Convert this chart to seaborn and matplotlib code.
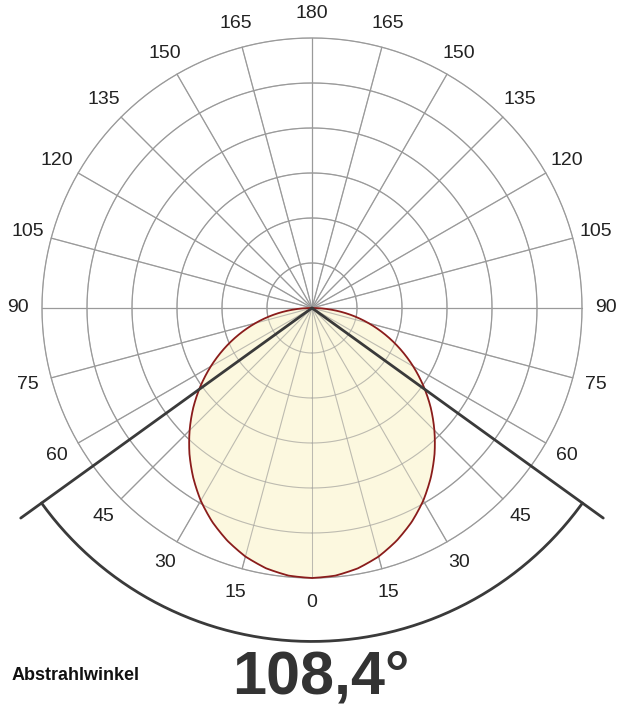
import numpy as np
import matplotlib
matplotlib.use("Agg")
import matplotlib.pyplot as plt
import seaborn as sns

# relative intensity vs angle from nadir (degrees)
angles = [0, 5, 10, 15, 20, 25, 30, 35, 40, 45, 50, 55, 60, 65, 70, 75, 80, 85, 90]
intensity = [1.0, 0.995, 0.979, 0.953, 0.917, 0.874, 0.824, 0.767, 0.706, 0.641,
             0.574, 0.504, 0.433, 0.361, 0.289, 0.217, 0.145, 0.072, 0.0]
grid_levels = [1/6, 2/6, 3/6, 4/6, 5/6, 1.0]
tick_angles = [0, 15, 30, 45, 60, 75, 90, 105, 120, 135, 150, 165, 180]
beam_angle = 108.4

sns.set_style("white")
plt.rcParams['font.family'] = ['Liberation Sans', 'DejaVu Sans']

fig = plt.figure(figsize=(6.23, 7.2), dpi=100)
ax = fig.add_axes([0, 0, 1, 1])
ax.set_xlim(0, 623); ax.set_ylim(720, 0); ax.axis('off')
cx, cy, R = 312, 308, 270

def pt(r, deg):
    t = np.radians(deg)
    return cx + r * R * np.sin(t), cy + r * R * np.cos(t)

tt = np.linspace(0, 360, 361)
def draw_grid(z, lw, alpha):
    for g in grid_levels:
        x, y = pt(g, tt)
        ax.plot(x, y, color='#9a9a9a', lw=lw, zorder=z, alpha=alpha)
    for a in range(0, 360, 15):
        x, y = pt(np.array([0, 1.0]), a)
        ax.plot(x, y, color='#9a9a9a', lw=lw, zorder=z, alpha=alpha)

draw_grid(1, 0.9, 1.0)

# lobe (smooth via interpolation in angle for drawing only)
a_full = np.array([-a for a in angles[::-1]] + angles[1:], dtype=float)
i_full = np.array(intensity[::-1] + intensity[1:])
af = np.linspace(-90, 90, 721)
iff = np.interp(af, a_full, i_full)
lx, ly = pt(iff, af)
ax.fill(lx, ly, color='#fcf7da', alpha=0.85, zorder=2)
ax.plot(lx, ly, color='#8a1c1c', lw=1.3, zorder=3)
draw_grid(2.5, 0.7, 0.6)

# beam lines and arc
half = beam_angle / 2
for s in (-1, 1):
    x, y = pt(np.array([0, 1.33]), s * half)
    ax.plot(x, y, color='#3a3a3a', lw=2, zorder=4)
arc = np.linspace(-half, half, 200)
x, y = pt(1.235, arc)
ax.plot(x, y, color='#3a3a3a', lw=2, zorder=4)

# labels
for a in tick_angles:
    for s in ((1,) if a in (0, 180) else (-1, 1)):
        x, y = pt(1.09, s * a)
        ax.text(x, y, str(a), ha='center', va='center', fontsize=14, color='#222222')

ax.text(12, 675, 'Abstrahlwinkel', fontsize=13, fontweight='bold', color='#111111', va='center')
ax.text(232, 678, '108,4°', fontsize=44, fontweight='bold', color='#333333', va='center')

fig.savefig('out.png', dpi=100)
